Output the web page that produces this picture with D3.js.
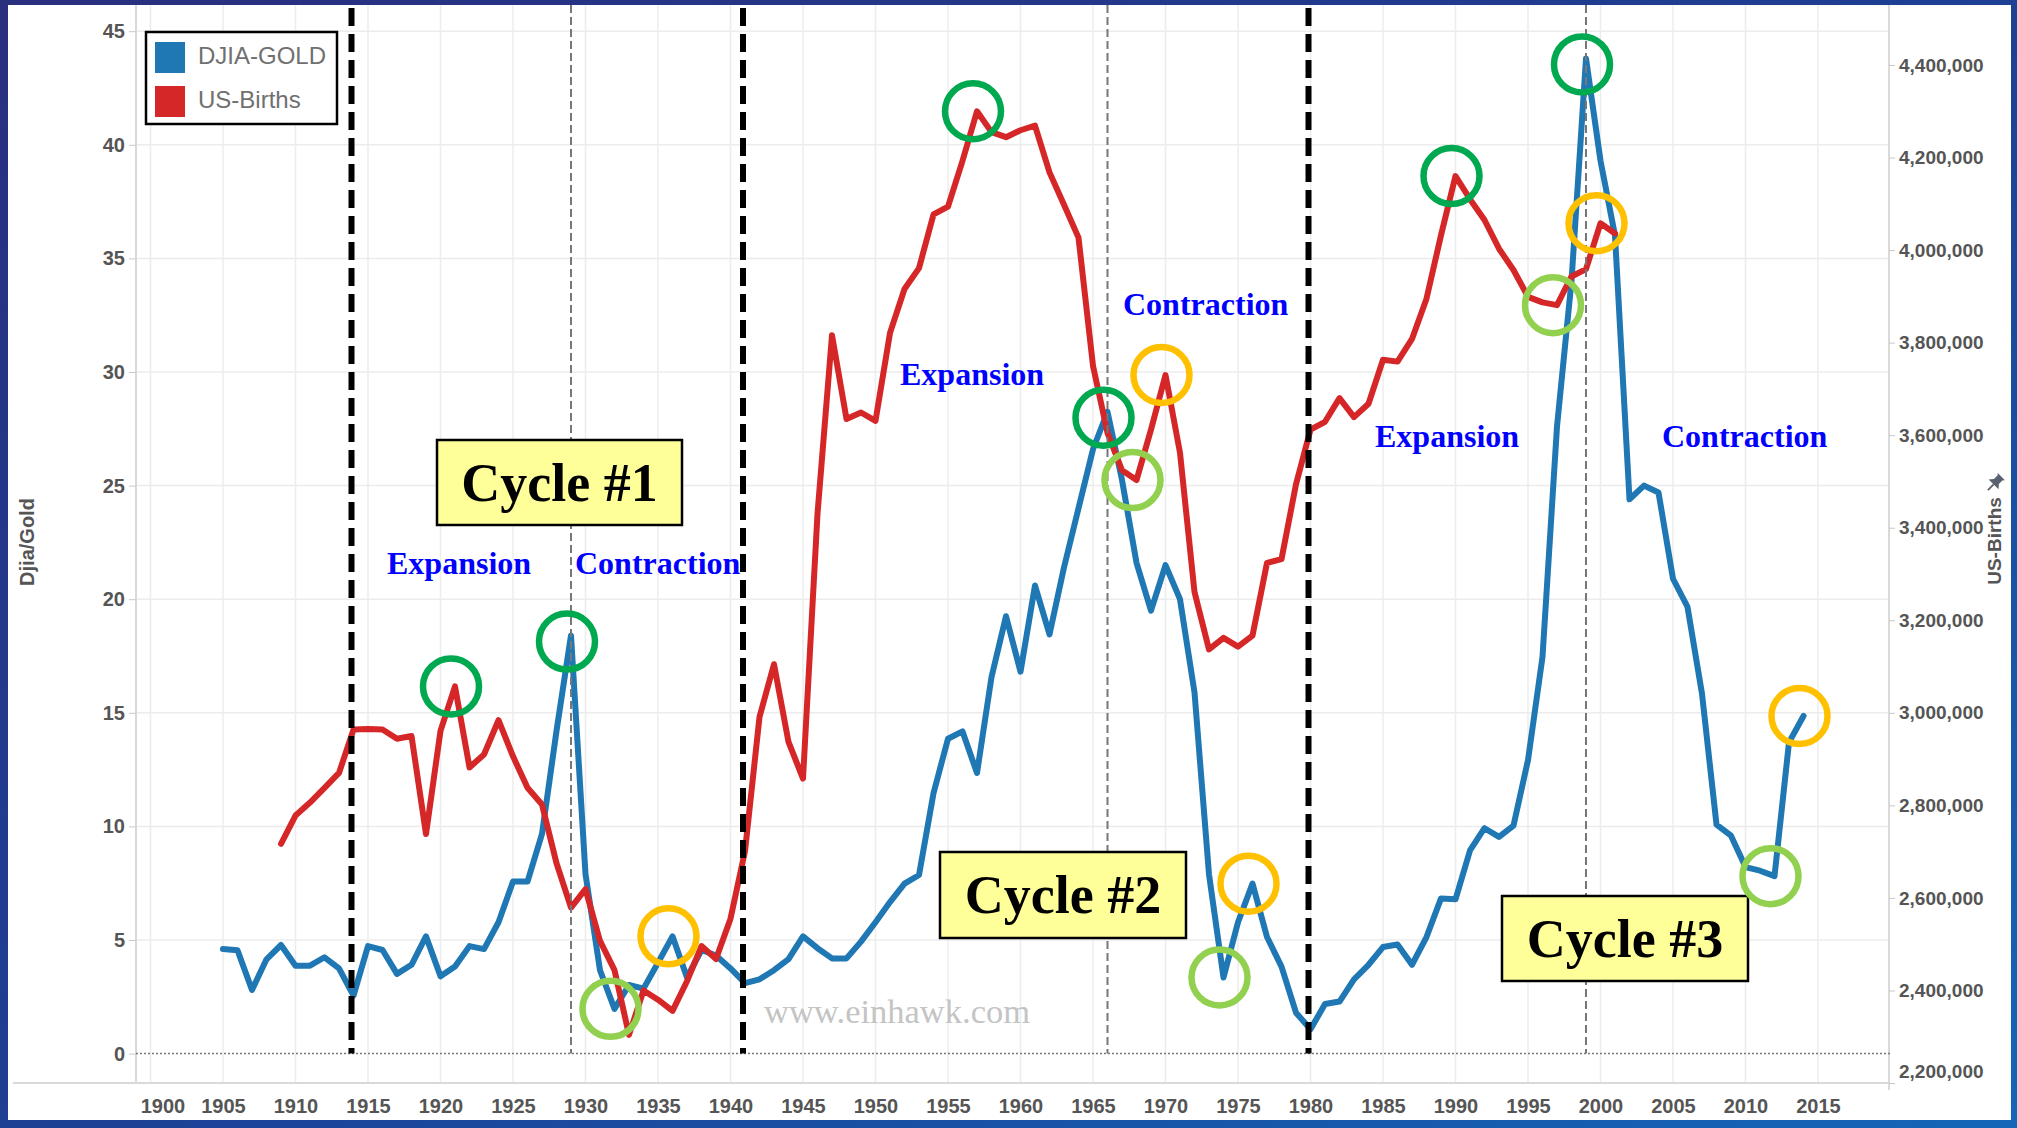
<!DOCTYPE html>
<html>
<head>
<meta charset="utf-8">
<script src="https://cdn.jsdelivr.net/npm/d3@7"></script>
<style>
  html, body { margin: 0; padding: 0; background: #1b2d78; }
  svg { display: block; }
  .tick text { font-family: "Liberation Sans", Arial, sans-serif; font-weight: bold; fill: #555; }
</style>
</head>
<body>
<svg id="chart" width="2017" height="1128"></svg>
<script>
// DJIA / Gold ratio, one value per year 1905..2014
const djiaStart = 1905;
const djiaGold = [
  4.6, 4.55, 2.8, 4.15, 4.78, 3.87, 3.87, 4.24, 3.75, 2.55,
  4.73, 4.56, 3.51, 3.91, 5.16, 3.4, 3.83, 4.73, 4.6, 5.78,
  7.57, 7.57, 9.67, 14.2, 18.4, 7.9, 3.67, 1.97, 3.02, 2.86,
  4.0, 5.16, 3.35, 4.56, 4.32, 3.75, 3.1, 3.27, 3.67, 4.16,
  5.16, 4.64, 4.19, 4.19, 4.93, 5.78, 6.67, 7.48, 7.86, 11.46,
  13.86, 14.18, 12.35, 16.57, 19.25, 16.81, 20.6, 18.45, 21.4, 24.0,
  26.6, 28.25, 25.25, 21.6, 19.5, 21.5, 20.0, 15.9, 7.89, 3.35,
  5.78, 7.48, 5.13, 3.83, 1.8, 1.07, 2.18, 2.29, 3.27, 3.91,
  4.69, 4.8, 3.91, 5.13, 6.83, 6.79, 8.94, 9.92, 9.54, 10.03,
  12.92, 17.46, 27.6, 34.0, 43.8, 39.3, 36.0, 24.4, 25.0, 24.7,
  20.9, 19.66, 15.84, 10.08, 9.59, 8.21, 8.05, 7.81, 13.7, 14.86
];

// US births (thousands), one value per year 1909..2001
const birthsStart = 1909;
const usBirths = [
  2717, 2778, 2806, 2838, 2870, 2964, 2965, 2964, 2944, 2950,
  2738, 2961, 3057, 2882, 2910, 2984, 2906, 2838, 2802, 2675,
  2579, 2619, 2507, 2444, 2304, 2400, 2380, 2356, 2420, 2496,
  2468, 2555, 2701, 2991, 3105, 2937, 2858, 3430, 3816, 3635,
  3649, 3631, 3821, 3916, 3961, 4077, 4094, 4193, 4300, 4255,
  4244, 4259, 4269, 4168, 4098, 4027, 3750, 3605, 3524, 3503,
  3612, 3730, 3562, 3261, 3137, 3162, 3143, 3167, 3324, 3332,
  3494, 3612, 3629, 3680, 3639, 3668, 3763, 3759, 3808, 3895,
  4032, 4160, 4110, 4065, 4003, 3957, 3899, 3887, 3881, 3943,
  3959, 4058, 4036
];

const xTicks = d3.range(1900, 2020, 5);
const leftTicks = d3.range(0, 50, 5);
const rightTicks = d3.range(22, 45, 2).map(d => d * 100000);

const seriesNames = ["DJIA-GOLD", "US-Births"];

// vertical markers
const cycleBounds = [1914, 1941, 1980];
const cyclePeaks = [1929, 1966, 1999];

// circled turning points
const ringYears  = [1921, 1929, 1932, 1936, 1957, 1966, 1968, 1970, 1974, 1976, 1990, 1999, 2000, 1997, 2012, 2014];
const ringSeries = ["births", "djia", "djia", "djia", "births", "djia", "births", "births", "djia", "djia", "births", "djia", "births", "births", "djia", "djia"];
const ringKinds  = ["top", "top", "low", "bounce", "top", "top", "low", "bounce", "low", "bounce", "top", "top", "bounce", "low", "low", "bounce"];

const cycleLabels = ["Cycle #1", "Cycle #2", "Cycle #3"];
const phaseLabels = ["Expansion", "Contraction", "Expansion", "Contraction", "Expansion", "Contraction"];


const W = 2017, H = 1128,
      L = 136, R = 1890, T = 5, B = 1083,
      colorDjia = "#1f77b4",
      colorBirths = "#d62728",
      ringColor = { top: "#00a84f", low: "#92d050", bounce: "#ffc000" },
      serif = "'Liberation Serif', 'Times New Roman', serif",
      sans = "'Liberation Sans', Arial, sans-serif";

const x = d3.scaleLinear().domain([1900, 2020]).range([150.5, 1890.5]);
const yL = d3.scaleLinear().domain([0, 45]).range([1053.6, 31.2]);
const yR = d3.scaleLinear().domain([2200000, 4400000]).range([B, 65]);

const djiaData = djiaGold.map((v, i) => ({ year: djiaStart + i, value: v }));
const birthData = usBirths.map((v, i) => ({ year: birthsStart + i, value: v * 1000 }));

const svg = d3.select("#chart");

// background frame
const defs = svg.append("defs");
const grad = defs.append("linearGradient").attr("id", "bg")
    .attr("x1", 0).attr("y1", 0).attr("x2", 1).attr("y2", 1);
grad.append("stop").attr("offset", 0).attr("stop-color", "#2a2f7e");
grad.append("stop").attr("offset", 0.5).attr("stop-color", "#1d3f94");
grad.append("stop").attr("offset", 1).attr("stop-color", "#1466b8");
svg.append("rect").attr("width", W).attr("height", H).attr("fill", "url(#bg)");
svg.append("rect").attr("x", 8).attr("y", 5).attr("width", 2003).attr("height", 1115).attr("fill", "#fff");

// grid
const grid = svg.append("g");
grid.selectAll(".vg").data(xTicks).join("line")
    .attr("x1", d => x(d)).attr("x2", d => x(d))
    .attr("y1", T).attr("y2", B)
    .attr("stroke", "#ececec").attr("stroke-width", 1.5);
grid.selectAll(".hg").data(leftTicks.filter(d => d > 0)).join("line")
    .attr("x1", L).attr("x2", R)
    .attr("y1", d => yL(d)).attr("y2", d => yL(d))
    .attr("stroke", "#ececec").attr("stroke-width", 1.5);

// axis frame lines
svg.append("line").attr("x1", 13).attr("x2", R).attr("y1", B).attr("y2", B)
    .attr("stroke", "#d9d9d9").attr("stroke-width", 2);
svg.append("line").attr("x1", L).attr("x2", L).attr("y1", T).attr("y2", B)
    .attr("stroke", "#d9d9d9").attr("stroke-width", 2);
svg.append("line").attr("x1", R - 1).attr("x2", R - 1).attr("y1", T).attr("y2", 1090)
    .attr("stroke", "#d9d9d9").attr("stroke-width", 2);

// zero line
svg.append("line").attr("x1", L).attr("x2", R).attr("y1", yL(0)).attr("y2", yL(0))
    .attr("stroke", "#777").attr("stroke-width", 1.5).attr("stroke-dasharray", "2,2");

// axes
const gLeft = svg.append("g").attr("transform", `translate(${L},0)`)
    .call(d3.axisLeft(yL).tickValues(leftTicks).tickSize(7).tickPadding(4));
gLeft.select(".domain").remove();
gLeft.selectAll(".tick line").attr("stroke", "#c8c8c8");
gLeft.selectAll(".tick text").attr("font-size", 20);

const gRight = svg.append("g").attr("transform", `translate(${R - 1},0)`)
    .call(d3.axisRight(yR).tickValues(rightTicks).tickFormat(d3.format(",")).tickSize(6).tickPadding(4));
gRight.select(".domain").remove();
gRight.selectAll(".tick line").attr("stroke", "#c8c8c8");
gRight.selectAll(".tick text").attr("font-size", 19)
    .attr("y", d => (d === rightTicks[0] ? -12 : 0));

const gBottom = svg.append("g").attr("transform", `translate(0,${B})`)
    .call(d3.axisBottom(x).tickValues(xTicks).tickFormat(d3.format("d")).tickSize(0).tickPadding(16));
gBottom.select(".domain").remove();
gBottom.selectAll(".tick text").attr("font-size", 20)
    .attr("x", d => (d === xTicks[0] ? 12 : 0));

// axis titles
svg.append("text")
    .attr("transform", "translate(29,542) rotate(-90)")
    .attr("text-anchor", "middle").attr("dominant-baseline", "middle")
    .attr("font-family", sans).attr("font-weight", "bold").attr("font-size", 20)
    .attr("fill", "#555").text("Djia/Gold");
svg.append("text")
    .attr("transform", "translate(1996,541) rotate(-90)")
    .attr("text-anchor", "middle").attr("dominant-baseline", "middle")
    .attr("font-family", sans).attr("font-weight", "bold").attr("font-size", 19)
    .attr("fill", "#555").text("US-Births");
// pin icon
const pin = svg.append("g").attr("transform", "translate(1995,483) rotate(45)").attr("fill", "#5a6270");
pin.append("path").attr("d", "M-5,-9 L5,-9 L3.5,-7 L3.5,-2 L7,2 L-7,2 L-3.5,-2 L-3.5,-7 Z");
pin.append("line").attr("x1", 0).attr("x2", 0).attr("y1", 2).attr("y2", 10)
    .attr("stroke", "#5a6270").attr("stroke-width", 1.8);

// series lines
const lineL = d3.line().x(d => x(d.year)).y(d => yL(d.value));
const lineR = d3.line().x(d => x(d.year)).y(d => yR(d.value));

svg.append("path").datum(djiaData).attr("d", lineL)
    .attr("fill", "none").attr("stroke", colorDjia).attr("stroke-width", 6)
    .attr("stroke-linejoin", "round").attr("stroke-linecap", "round");
svg.append("path").datum(birthData).attr("d", lineR)
    .attr("fill", "none").attr("stroke", colorBirths).attr("stroke-width", 6)
    .attr("stroke-linejoin", "round").attr("stroke-linecap", "round");

// cycle boundaries and peaks
svg.selectAll(".bound").data(cycleBounds).join("line")
    .attr("x1", d => x(d) - 2).attr("x2", d => x(d) - 2)
    .attr("y1", 8).attr("y2", yL(0))
    .attr("stroke", "#000").attr("stroke-width", 6).attr("stroke-dasharray", "18,8");
svg.selectAll(".peak").data(cyclePeaks).join("line")
    .attr("x1", d => x(d)).attr("x2", d => x(d))
    .attr("y1", 5).attr("y2", yL(0))
    .attr("stroke", "#777").attr("stroke-width", 2).attr("stroke-dasharray", "8,4");

// legend
const legend = svg.append("g");
legend.append("rect").attr("x", 146).attr("y", 32).attr("width", 191).attr("height", 92)
    .attr("fill", "#fff").attr("stroke", "#000").attr("stroke-width", 2.5);
legend.selectAll(".sw").data(seriesNames).join("rect")
    .attr("x", 155).attr("y", (d, i) => 42 + i * 44).attr("width", 30).attr("height", 31)
    .attr("fill", (d, i) => (i === 0 ? colorDjia : colorBirths));
legend.selectAll(".lt").data(seriesNames).join("text")
    .attr("x", 198).attr("y", (d, i) => 58 + i * 44)
    .attr("dominant-baseline", "middle")
    .attr("font-family", sans).attr("font-size", 24).attr("fill", "#707070")
    .text(d => d);

// cycle boxes
const boxes = [
  { x: 437, y: 440, w: 245, h: 85 },
  { x: 940, y: 852, w: 246, h: 86 },
  { x: 1502, y: 896, w: 246, h: 85 }
];
const gBox = svg.selectAll(".cyc").data(cycleLabels).join("g");
gBox.append("rect")
    .attr("x", (d, i) => boxes[i].x).attr("y", (d, i) => boxes[i].y)
    .attr("width", (d, i) => boxes[i].w).attr("height", (d, i) => boxes[i].h)
    .attr("fill", "#ffff99").attr("stroke", "#000").attr("stroke-width", 2.5);
gBox.append("text")
    .attr("x", (d, i) => boxes[i].x + boxes[i].w / 2)
    .attr("y", (d, i) => boxes[i].y + boxes[i].h / 2 + 18)
    .attr("text-anchor", "middle")
    .attr("font-family", serif).attr("font-weight", "bold").attr("font-size", 54)
    .attr("fill", "#000").text(d => d);

// phase labels
const phasePos = [[387, 574], [575, 574], [900, 385], [1123, 315], [1375, 447], [1662, 447]];
svg.selectAll(".phase").data(phaseLabels).join("text")
    .attr("x", (d, i) => phasePos[i][0]).attr("y", (d, i) => phasePos[i][1])
    .attr("font-family", serif).attr("font-weight", "bold").attr("font-size", 32)
    .attr("fill", "#0000ff").text(d => d);

// watermark
svg.append("text").attr("x", 764).attr("y", 1023)
    .attr("font-family", serif).attr("font-size", 34.5).attr("fill", "#c4c4c4")
    .text("www.einhawk.com");

// rings
const valueAt = (series, year) => series === "djia"
    ? yL(djiaGold[year - djiaStart])
    : yR(usBirths[year - birthsStart] * 1000);
svg.selectAll(".ring").data(ringYears).join("circle")
    .attr("cx", d => x(d) - 4)
    .attr("cy", (d, i) => valueAt(ringSeries[i], d) + (ringSeries[i] === "djia" && ringKinds[i] === "top" ? 6 : 0))
    .attr("r", 28)
    .attr("fill", "none")
    .attr("stroke", (d, i) => ringColor[ringKinds[i]])
    .attr("stroke-width", 6.5);
</script>
</body>
</html>
